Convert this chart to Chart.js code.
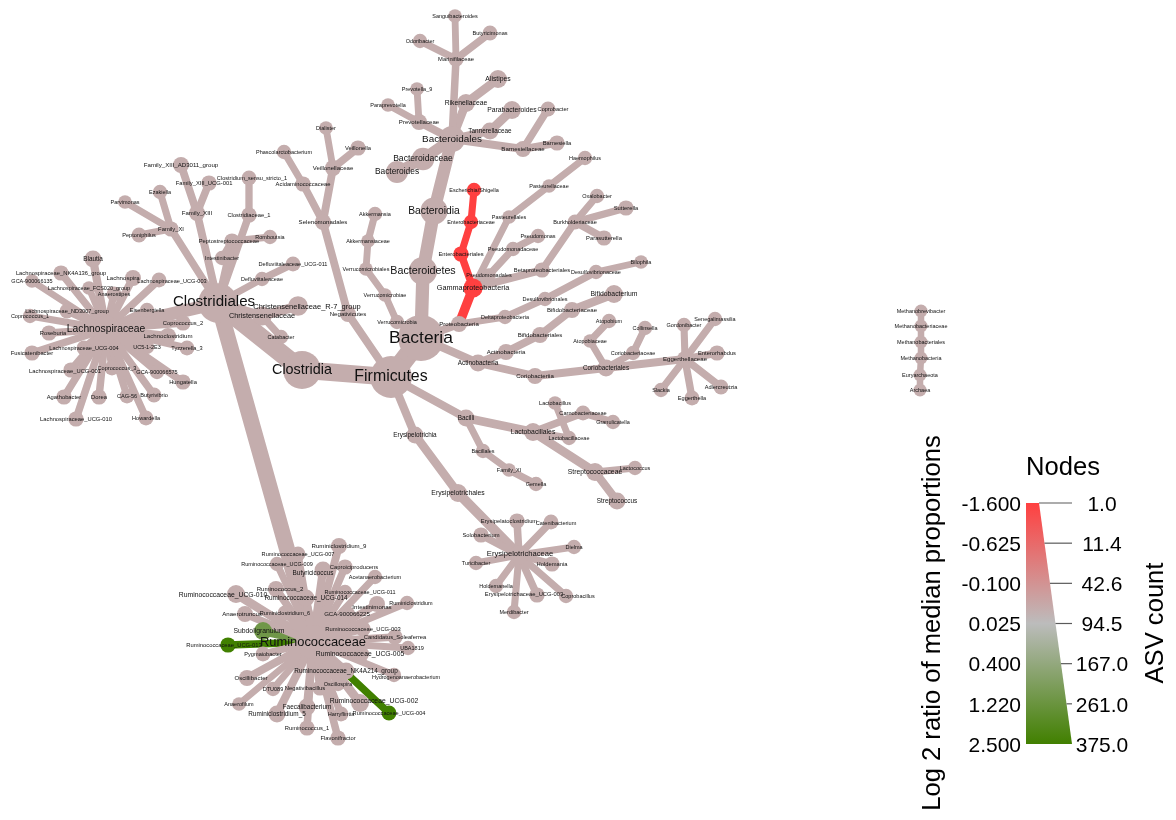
<!DOCTYPE html>
<html>
<head>
<meta charset="utf-8">
<title>Heat tree</title>
<script src="https://cdn.jsdelivr.net/npm/chart.js@4/dist/chart.umd.min.js"></script>
<style>
  html, body { margin: 0; padding: 0; background: #fff; }
  canvas { display: block; filter: blur(0.4px); }
</style>
</head>
<body>
<canvas id="tree" width="1176" height="820"></canvas>
<script>
// every taxon is one row across these lists, parents always come before their children
const taxonNames = [
  'Bacteria', 'Firmicutes', 'Clostridia', 'Clostridiales',
  // Lachnospiraceae
  'Lachnospiraceae', 'Blautia', 'Lachnospiraceae_NK4A136_group', 'GCA-900066135', 'Lachnospira', 'Lachnospiraceae_UCG-003',
  'Lachnospiraceae_FCS020_group', 'Anaerostipes', 'Eisenbergiella', 'Lachnospiraceae_ND3007_group', 'Coprococcus_1', 'Roseburia',
  'Coprococcus_2', 'Lachnoclostridium', 'Tyzzerella_3', 'UC5-1-2E3', 'Lachnospiraceae_UCG-004', 'Fusicatenibacter',
  'Lachnospiraceae_UCG-001', 'Coprococcus_3', 'GCA-900066575', 'Hungatella', 'Agathobacter', 'Dorea',
  'CAG-56', 'Butyrivibrio', 'Lachnospiraceae_UCG-010', 'Howardella',
  // small Clostridiales families
  'Family_XI', 'Parvimonas', 'Ezakiella', 'Peptoniphilus', 'Family_XIII', 'Family_XIII_AD3011_group',
  'Family_XIII_UCG-001', 'Clostridiaceae_1', 'Clostridium_sensu_stricto_1', 'Peptostreptococcaceae', 'Romboutsia', 'Intestinibacter',
  'Defluviitaleaceae', 'Defluviitaleaceae_UCG-011', 'Christensenellaceae', 'Christensenellaceae_R-7_group', 'Catabacter',
  // Ruminococcaceae
  'Ruminococcaceae', 'Ruminococcaceae_UCG-013', 'Subdoligranulum', 'Ruminococcaceae_UCG-004', 'Ruminiclostridium_9', 'Ruminococcaceae_UCG-007',
  'Ruminococcaceae_UCG-009', 'Butyricicoccus', 'Caproiciproducens', 'Acetanaerobacterium', 'Ruminococcaceae_UCG-011', 'Ruminococcus_2',
  'Ruminococcaceae_UCG-010', 'Ruminococcaceae_UCG-014', 'Intestinimonas', 'Ruminiclostridium', 'Anaerotruncus', 'Ruminiclostridium_6',
  'GCA-900066225', 'Ruminococcaceae_UCG-003', 'Candidatus_Soleaferrea', 'UBA1819', 'Pygmaiobacter', 'Ruminococcaceae_UCG-005',
  'Ruminococcaceae_NK4A214_group', 'Hydrogenoanaerobacterium', 'Oscillibacter', 'DTU089', 'Negativibacillus', 'Oscillospira',
  'Anaerofilum', 'Ruminiclostridium_5', 'Faecalibacterium', 'Ruminococcaceae_UCG-002', 'Harryflintia', 'Ruminococcus_1',
  'Flavonifractor',
  // Negativicutes
  'Negativicutes', 'Selenomonadales', 'Veillonellaceae', 'Dialister', 'Veillonella', 'Acidaminococcaceae', 'Phascolarctobacterium',
  // Erysipelotrichia
  'Erysipelotrichia', 'Erysipelotrichales', 'Erysipelotrichaceae', 'Erysipelatoclostridium', 'Catenibacterium', 'Solobacterium',
  'Dielma', 'Turicibacter', 'Holdemania', 'Holdemanella', 'Erysipelotrichaceae_UCG-003', 'Coprobacillus', 'Merdibacter',
  // Bacilli
  'Bacilli', 'Bacillales', 'Family_XI', 'Gemella', 'Lactobacillales', 'Lactobacillaceae', 'Lactobacillus',
  'Carnobacteriaceae', 'Granulicatella', 'Streptococcaceae', 'Lactococcus', 'Streptococcus',
  // Bacteroidetes
  'Bacteroidetes', 'Bacteroidia', 'Bacteroidales', 'Bacteroidaceae', 'Bacteroides', 'Prevotellaceae', 'Paraprevotella', 'Prevotella_9',
  'Rikenellaceae', 'Alistipes', 'Marinifilaceae', 'Sanguibacteroides', 'Odoribacter', 'Butyricimonas',
  'Tannerellaceae', 'Parabacteroides', 'Barnesiellaceae', 'Coprobacter', 'Barnesiella',
  // Verrucomicrobia
  'Verrucomicrobia', 'Verrucomicrobiae', 'Verrucomicrobiales', 'Akkermansiaceae', 'Akkermansia',
  // Proteobacteria
  'Proteobacteria', 'Gammaproteobacteria', 'Enterobacteriales', 'Enterobacteriaceae', 'Escherichia/Shigella',
  'Pseudomonadales', 'Pseudomonadaceae', 'Pseudomonas', 'Pasteurellales', 'Pasteurellaceae', 'Haemophilus',
  'Betaproteobacteriales', 'Burkholderiaceae', 'Oxalobacter', 'Sutterella', 'Parasutterella',
  'Deltaproteobacteria', 'Desulfovibrionales', 'Desulfovibrionaceae', 'Bilophila',
  // Actinobacteria
  'Actinobacteria', 'Actinobacteria', 'Bifidobacteriales', 'Bifidobacteriaceae', 'Bifidobacterium',
  'Coriobacteriia', 'Coriobacteriales', 'Atopobiaceae', 'Atopobium', 'Coriobacteriaceae', 'Collinsella',
  'Eggerthellaceae', 'Gordonibacter', 'Senegalimassilia', 'Enterorhabdus', 'Adlercreutzia', 'Eggerthella', 'Slackia',
  // Archaea
  'Archaea', 'Euryarchaeota', 'Methanobacteria', 'Methanobacteriales', 'Methanobacteriaceae', 'Methanobrevibacter'
];

const parentNames = [
  null, 'Bacteria', 'Firmicutes', 'Clostridia',
  'Clostridiales', 'Lachnospiraceae', 'Lachnospiraceae', 'Lachnospiraceae', 'Lachnospiraceae', 'Lachnospiraceae',
  'Lachnospiraceae', 'Lachnospiraceae', 'Lachnospiraceae', 'Lachnospiraceae', 'Lachnospiraceae', 'Lachnospiraceae',
  'Lachnospiraceae', 'Lachnospiraceae', 'Lachnospiraceae', 'Lachnospiraceae', 'Lachnospiraceae', 'Lachnospiraceae',
  'Lachnospiraceae', 'Lachnospiraceae', 'Lachnospiraceae', 'Lachnospiraceae', 'Lachnospiraceae', 'Lachnospiraceae',
  'Lachnospiraceae', 'Lachnospiraceae', 'Lachnospiraceae', 'Lachnospiraceae',
  'Clostridiales', 'Family_XI', 'Family_XI', 'Family_XI', 'Clostridiales', 'Family_XIII',
  'Family_XIII', 'Clostridiales', 'Clostridiaceae_1', 'Clostridiales', 'Peptostreptococcaceae', 'Peptostreptococcaceae',
  'Clostridiales', 'Defluviitaleaceae', 'Clostridiales', 'Christensenellaceae', 'Christensenellaceae',
  'Clostridiales', 'Ruminococcaceae', 'Ruminococcaceae', 'Ruminococcaceae', 'Ruminococcaceae', 'Ruminococcaceae',
  'Ruminococcaceae', 'Ruminococcaceae', 'Ruminococcaceae', 'Ruminococcaceae', 'Ruminococcaceae', 'Ruminococcaceae',
  'Ruminococcaceae', 'Ruminococcaceae', 'Ruminococcaceae', 'Ruminococcaceae', 'Ruminococcaceae', 'Ruminococcaceae',
  'Ruminococcaceae', 'Ruminococcaceae', 'Ruminococcaceae', 'Ruminococcaceae', 'Ruminococcaceae', 'Ruminococcaceae',
  'Ruminococcaceae', 'Ruminococcaceae', 'Ruminococcaceae', 'Ruminococcaceae', 'Ruminococcaceae', 'Ruminococcaceae',
  'Ruminococcaceae', 'Ruminococcaceae', 'Ruminococcaceae', 'Ruminococcaceae', 'Ruminococcaceae', 'Ruminococcaceae',
  'Ruminococcaceae',
  'Firmicutes', 'Negativicutes', 'Selenomonadales', 'Veillonellaceae', 'Veillonellaceae', 'Selenomonadales', 'Acidaminococcaceae',
  'Firmicutes', 'Erysipelotrichia', 'Erysipelotrichales', 'Erysipelotrichaceae', 'Erysipelotrichaceae', 'Erysipelotrichaceae',
  'Erysipelotrichaceae', 'Erysipelotrichaceae', 'Erysipelotrichaceae', 'Erysipelotrichaceae', 'Erysipelotrichaceae', 'Erysipelotrichaceae', 'Erysipelotrichaceae',
  'Firmicutes', 'Bacilli', 'Bacillales', 'Family_XI', 'Bacilli', 'Lactobacillales', 'Lactobacillaceae',
  'Lactobacillales', 'Carnobacteriaceae', 'Lactobacillales', 'Streptococcaceae', 'Streptococcaceae',
  'Bacteria', 'Bacteroidetes', 'Bacteroidia', 'Bacteroidales', 'Bacteroidaceae', 'Bacteroidales', 'Prevotellaceae', 'Prevotellaceae',
  'Bacteroidales', 'Rikenellaceae', 'Bacteroidales', 'Marinifilaceae', 'Marinifilaceae', 'Marinifilaceae',
  'Bacteroidales', 'Tannerellaceae', 'Bacteroidales', 'Barnesiellaceae', 'Barnesiellaceae',
  'Bacteria', 'Verrucomicrobia', 'Verrucomicrobiae', 'Verrucomicrobiales', 'Akkermansiaceae',
  'Bacteria', 'Proteobacteria', 'Gammaproteobacteria', 'Enterobacteriales', 'Enterobacteriaceae',
  'Gammaproteobacteria', 'Pseudomonadales', 'Pseudomonadaceae', 'Gammaproteobacteria', 'Pasteurellales', 'Pasteurellaceae',
  'Gammaproteobacteria', 'Betaproteobacteriales', 'Burkholderiaceae', 'Burkholderiaceae', 'Burkholderiaceae',
  'Proteobacteria', 'Deltaproteobacteria', 'Desulfovibrionales', 'Desulfovibrionaceae',
  'Bacteria', 'Actinobacteria', 'Actinobacteria', 'Bifidobacteriales', 'Bifidobacteriaceae',
  'Actinobacteria-phylum', 'Coriobacteriia', 'Coriobacteriales', 'Atopobiaceae', 'Coriobacteriales', 'Coriobacteriaceae',
  'Coriobacteriales', 'Eggerthellaceae', 'Eggerthellaceae', 'Eggerthellaceae', 'Eggerthellaceae', 'Eggerthellaceae', 'Eggerthellaceae',
  null, 'Archaea', 'Euryarchaeota', 'Methanobacteria', 'Methanobacteriales', 'Methanobacteriaceae'
];

// layout values
const layoutX = [
  421, 391, 302, 218,
  106, 93, 61, 32, 133, 159,
  89, 114, 147, 67, 30, 49,
  183, 168, 187, 147, 84, 32,
  71, 112, 157, 183, 64, 99,
  127, 154, 76, 146,
  171, 125, 160, 139, 197, 181,
  209, 249, 249, 232, 270, 222,
  262, 293, 262, 298, 281,
  313, 228, 263, 389, 339, 298,
  277, 323, 345, 375, 345, 276,
  236, 306, 377, 407, 245, 285,
  347, 363, 395, 408, 263, 360,
  346, 394, 247, 273, 320, 338,
  239, 277, 307, 360, 341, 307,
  338,
  348, 323, 333, 326, 358, 303, 284,
  415, 458, 519, 517, 551, 481,
  574, 476, 552, 496, 537, 566, 514,
  466, 483, 509, 536, 533, 569, 555,
  583, 613, 595, 635, 617,
  423, 434, 452, 423, 397, 419, 388, 417,
  466, 498, 456, 455, 420, 490,
  490, 512, 523, 548, 557,
  397, 385, 366, 368, 375,
  459, 473, 461, 471, 474,
  489, 513, 538, 509, 549, 585,
  542, 575, 597, 626, 604,
  505, 545, 596, 641,
  478, 506, 540, 572, 614,
  535, 606, 590, 609, 633, 645,
  685, 684, 715, 717, 721, 692, 661,
  920, 920, 921, 921, 921, 921
];

const layoutY = [
  338, 377, 370, 303,
  329, 259, 273, 281, 278, 280,
  288, 294, 310, 311, 316, 333,
  323, 336, 348, 347, 348, 353,
  370, 368, 372, 382, 397, 397,
  396, 395, 419, 418,
  229, 202, 192, 235, 213, 165,
  183, 215, 178, 241, 237, 258,
  279, 264, 316, 306, 337,
  642, 645, 631, 713, 546, 554,
  564, 570, 567, 577, 592, 589,
  594, 598, 604, 603, 614, 613,
  614, 629, 637, 648, 654, 654,
  671, 675, 678, 689, 688, 684,
  704, 714, 707, 703, 714, 728,
  738,
  314, 222, 168, 128, 148, 184, 152,
  435, 493, 555, 521, 522, 535,
  547, 563, 564, 586, 595, 596, 612,
  418, 451, 470, 484, 432, 438, 403,
  413, 422, 472, 468, 501,
  271, 211, 139, 159, 172, 122, 105, 89,
  103, 79, 59, 16, 41, 33,
  131, 110, 149, 109, 143,
  322, 295, 269, 241, 214,
  324, 288, 254, 222, 190,
  275, 249, 236, 217, 186, 158,
  270, 222, 196, 208, 238,
  317, 299, 272, 262,
  363, 352, 335, 310, 294,
  376, 368, 341, 321, 353, 328,
  359, 325, 319, 353, 387, 398, 390,
  390, 375, 358, 342, 326, 311
];

const asvCounts = [
  370, 290, 220, 250,
  78, 10, 5, 2, 7, 4,
  2, 4, 3, 4, 3, 5,
  5, 7, 4, 3, 4, 5,
  5, 4, 3, 5, 5, 5,
  4, 4, 5, 4,
  5, 2, 3, 4, 7, 7,
  5, 5, 4, 5, 3, 3,
  3, 4, 20, 22, 3,
  160, 5, 14, 4, 7, 4,
  3, 10, 5, 3, 3, 7,
  14, 10, 7, 3, 7, 4,
  7, 5, 5, 3, 4, 14,
  10, 3, 7, 3, 5, 3,
  2, 10, 10, 14, 4, 5,
  5,
  7, 7, 7, 2, 5, 5, 3,
  10, 14, 24, 5, 4, 5,
  3, 3, 5, 3, 5, 3, 3,
  10, 3, 2, 3, 14, 3, 2,
  4, 3, 14, 3, 10,
  88, 78, 68, 40, 36, 7, 2, 2,
  14, 14, 5, 2, 3, 4,
  10, 14, 7, 4, 5,
  3, 2, 2, 2, 3,
  7, 20, 5, 3, 3,
  2, 3, 3, 2, 2, 3,
  5, 4, 3, 5, 5,
  3, 3, 3, 2,
  10, 7, 7, 7, 14,
  7, 10, 2, 3, 3, 3,
  7, 3, 3, 5, 4, 4, 3,
  1, 1, 1, 1, 1, 1
];

const logRatios = [
  -0.02, -0.02, -0.02, -0.02,
  -0.02, -0.02, -0.02, -0.02, -0.02, -0.02,
  -0.02, -0.02, -0.02, -0.02, -0.02, -0.02,
  -0.02, -0.02, -0.02, -0.02, -0.02, -0.02,
  -0.02, -0.02, -0.02, -0.02, -0.02, -0.02,
  -0.02, -0.02, -0.02, -0.02,
  -0.02, -0.02, -0.02, -0.02, -0.02, -0.02,
  -0.02, -0.02, -0.02, -0.02, -0.02, -0.02,
  -0.02, -0.02, -0.02, -0.02, -0.02,
  -0.02, 2.5, 1.1, 2.5, -0.02, -0.02,
  -0.02, -0.02, -0.02, -0.02, -0.02, -0.02,
  -0.02, -0.02, -0.02, -0.02, -0.02, -0.02,
  -0.02, -0.02, -0.02, -0.02, -0.02, -0.02,
  -0.02, -0.02, -0.02, -0.02, -0.02, -0.02,
  -0.02, -0.02, -0.02, -0.02, -0.02, -0.02,
  -0.02,
  -0.02, -0.02, -0.02, -0.02, -0.02, -0.02, -0.02,
  -0.02, -0.02, -0.02, -0.02, -0.02, -0.02,
  -0.02, -0.02, -0.02, -0.02, -0.02, -0.02, -0.02,
  -0.02, -0.02, -0.02, -0.02, -0.02, -0.02, -0.02,
  -0.02, -0.02, -0.02, -0.02, -0.02,
  -0.02, -0.02, -0.02, -0.02, -0.02, -0.02, -0.02, -0.02,
  -0.02, -0.02, -0.02, -0.02, -0.02, -0.02,
  -0.02, -0.02, -0.02, -0.02, -0.02,
  -0.02, -0.02, -0.02, -0.02, -0.02,
  -0.02, -1.6, -1.6, -1.6, -1.6,
  -0.02, -0.02, -0.02, -0.02, -0.02, -0.02,
  -0.02, -0.02, -0.02, -0.02, -0.02,
  -0.02, -0.02, -0.02, -0.02,
  -0.02, -0.02, -0.02, -0.02, -0.02,
  -0.02, -0.02, -0.02, -0.02, -0.02, -0.02,
  -0.02, -0.02, -0.02, -0.02, -0.02, -0.02, -0.02,
  -0.02, -0.02, -0.02, -0.02, -0.02, -0.02
];

const legendRatios = [-1.6, -0.625, -0.1, 0.025, 0.4, 1.22, 2.5];
const legendRatioLabels = ['-1.600', '-0.625', '-0.100', '0.025', '0.400', '1.220', '2.500'];
const legendCountLabels = ['1.0', '11.4', '42.6', '94.5', '167.0', '261.0', '375.0'];

// labels that sit beside their node in the reference
const labelShift = {
  'Clostridiales': [-4, -1],
  'Lachnospira': [-10, 0], 'Lachnospiraceae_UCG-003': [13, 1], 'Roseburia': [4, 0], 'Lachnospiraceae_UCG-001': [-6, 1],
  'Coprococcus_3': [5, 0], 'Family_XIII_UCG-001': [-5, 0], 'Clostridium_sensu_stricto_1': [3, 0],
  'Christensenellaceae_R-7_group': [9, 1], 'Peptostreptococcaceae': [-3, 0],
  'Butyricicoccus': [-10, 3], 'Caproiciproducens': [9, 0], 'Ruminococcaceae_UCG-011': [15, 0], 'Ruminococcus_2': [4, 0],
  'Ruminococcaceae_UCG-010': [-13, 1], 'Intestinimonas': [-5, 3], 'Ruminiclostridium': [4, 0], 'Anaerotruncus': [-3, 0],
  'Subdoligranulum': [-4, 0], 'Ruminococcaceae_UCG-013': [-4, 0], 'UBA1819': [4, 0], 'Hydrogenoanaerobacterium': [12, 2],
  'Oscillibacter': [4, 0], 'Negativibacillus': [-15, 0], 'Ruminococcaceae_UCG-002': [14, -2],
  'Erysipelatoclostridium': [-8, 0], 'Catenibacterium': [5, 1], 'Erysipelotrichaceae_UCG-003': [-13, -1], 'Coprobacillus': [12, 0],
  'Erysipelotrichaceae': [1, -1], 'Coprobacter': [5, 0]
};

const barColors = [[255, 64, 64], [188, 188, 188], [65, 128, 0]];

function ratioColor(value) {
  // legend ticks are evenly spaced, so the ratio is first placed between two ticks
  let f = 1;
  for (let i = 0; i < legendRatios.length - 1; i++) {
    if (value <= legendRatios[i + 1]) {
      f = (i + (value - legendRatios[i]) / (legendRatios[i + 1] - legendRatios[i])) / 6;
      break;
    }
  }
  const lo = f < 0.5 ? barColors[0] : barColors[1];
  const hi = f < 0.5 ? barColors[1] : barColors[2];
  const t = f < 0.5 ? f * 2 : f * 2 - 1;
  const c = lo.map((v, i) => Math.round(v + (hi[i] - v) * t));
  return 'rgb(' + c.join(',') + ')';
}

function nodeDiameter(count) {
  return 13 + 33 * (Math.sqrt(count) - 1) / (Math.sqrt(375) - 1);
}

function edgeWidth(count) {
  return 6.5 + (nodeDiameter(count) - 13) * 0.45;
}

function labelFont(count) {
  return Math.max(5.5, nodeDiameter(count) * 0.38).toFixed(1) + 'px "Liberation Sans"';
}

function parentIndex(i) {
  const name = parentNames[i];
  if (name === null) return -1;
  if (name === 'Actinobacteria-phylum') return taxonNames.indexOf('Actinobacteria');
  // nearest earlier row wins, the names repeat in a few places
  for (let j = i - 1; j >= 0; j--) {
    if (taxonNames[j] === name) return j;
  }
  return -1;
}

const labelPlugin = {
  id: 'taxonLabels',
  afterDatasetsDraw(chart) {
    const { ctx, scales } = chart;
    ctx.save();
    ctx.fillStyle = '#111';
    ctx.textAlign = 'center';
    ctx.textBaseline = 'middle';
    taxonNames.forEach((name, i) => {
      const shift = labelShift[name] || [0, 0];
      ctx.font = labelFont(asvCounts[i]);
      ctx.fillText(name, scales.x.getPixelForValue(layoutX[i]) + shift[0], scales.y.getPixelForValue(layoutY[i]) + shift[1]);
    });
    ctx.restore();
  }
};

const legendPlugin = {
  id: 'nodeLegend',
  afterDraw(chart) {
    const { ctx } = chart;
    const left = 1026, top = 503, bottom = 744, topRight = 1039, right = 1072;
    const step = (bottom - top) / 6;
    ctx.save();

    const grad = ctx.createLinearGradient(0, top, 0, bottom);
    barColors.forEach((c, i) => grad.addColorStop(i / 2, 'rgb(' + c.join(',') + ')'));
    ctx.fillStyle = grad;
    ctx.beginPath();
    ctx.moveTo(left, top);
    ctx.lineTo(topRight, top);
    ctx.lineTo(right, bottom);
    ctx.lineTo(left, bottom);
    ctx.closePath();
    ctx.fill();

    ctx.strokeStyle = '#5a5a5a';
    ctx.lineWidth = 1.2;
    ctx.fillStyle = '#000';
    ctx.font = '21px "Liberation Sans"';
    ctx.textBaseline = 'middle';
    legendCountLabels.forEach((label, i) => {
      const y = top + i * step;
      const edge = topRight + (right - topRight) * i / 6;
      ctx.beginPath();
      ctx.moveTo(edge, y);
      ctx.lineTo(right, y);
      ctx.stroke();
      ctx.textAlign = 'center';
      ctx.fillText(label, 1102, y + 2);
      ctx.textAlign = 'right';
      ctx.fillText(legendRatioLabels[i], 1021, y + 2);
    });

    ctx.textAlign = 'center';
    ctx.font = '25.6px "Liberation Sans"';
    ctx.fillText('Nodes', 1063, 468);
    ctx.translate(933, 623);
    ctx.rotate(-Math.PI / 2);
    ctx.fillText('Log 2 ratio of median proportions', 0, 0);
    ctx.rotate(Math.PI / 2);
    ctx.translate(1156 - 933, 0);
    ctx.rotate(-Math.PI / 2);
    ctx.fillText('ASV count', 0, 0);
    ctx.restore();
  }
};

const datasets = [{
  label: 'nodes',
  order: -1,
  data: taxonNames.map((_, i) => ({ x: layoutX[i], y: layoutY[i] })),
  pointRadius: asvCounts.map(c => nodeDiameter(c) / 2),
  pointBackgroundColor: logRatios.map(ratioColor),
  pointBorderWidth: 0
}];

taxonNames.forEach((_, i) => {
  const p = parentIndex(i);
  if (p < 0) return;
  datasets.push({
    label: taxonNames[i],
    // later rows paint over earlier ones
    order: taxonNames.length - i,
    showLine: true,
    borderColor: ratioColor(logRatios[i]),
    borderWidth: edgeWidth(asvCounts[i]),
    borderCapStyle: 'round',
    pointRadius: 0,
    data: [{ x: layoutX[p], y: layoutY[p] }, { x: layoutX[i], y: layoutY[i] }]
  });
});

new Chart(document.getElementById('tree'), {
  type: 'scatter',
  data: { datasets },
  options: {
    responsive: false,
    animation: false,
    devicePixelRatio: 1,
    // the big nodes would otherwise pull the plot area in from the canvas edge
    layout: { padding: 0, autoPadding: false },
    plugins: { legend: { display: false }, tooltip: { enabled: false } },
    events: [],
    clip: false,
    scales: {
      x: { display: false, type: 'linear', min: 0, max: 1176 },
      y: { display: false, type: 'linear', min: 0, max: 820, reverse: true }
    }
  },
  plugins: [labelPlugin, legendPlugin]
});
</script>
</body>
</html>
